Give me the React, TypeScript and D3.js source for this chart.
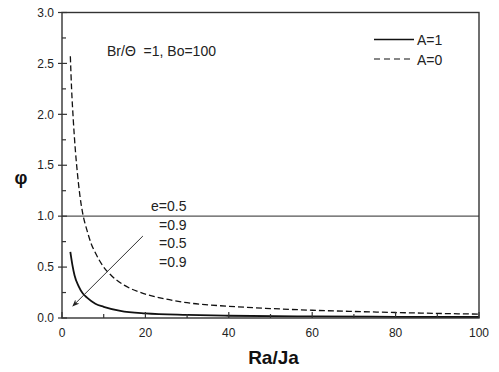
import React, { useRef, useEffect } from "react";
import * as d3 from "d3";

// Ra/Ja values and phi for the two curve families
const raJaA0 = [2, 2.3, 2.7, 3.2, 3.7, 4.3, 5, 6, 7, 8, 10, 12, 15, 20, 25, 30, 40, 50, 60, 70, 80, 90, 100];
const phiA0 = [2.57, 2.25, 1.95, 1.65, 1.42, 1.2, 1.02, 0.86, 0.73, 0.64, 0.5, 0.41, 0.32, 0.235, 0.185, 0.15, 0.115, 0.093, 0.076, 0.064, 0.054, 0.045, 0.038];

const raJaA1 = [2, 2.5, 3, 4, 5, 6, 8, 10, 14, 20, 30, 40, 60, 80, 100];
const phiA1 = [0.65, 0.52, 0.42, 0.31, 0.24, 0.2, 0.14, 0.11, 0.07, 0.045, 0.03, 0.022, 0.015, 0.012, 0.01];

const xTicks = [0, 20, 40, 60, 80, 100];
const yTicks = [0, 0.5, 1.0, 1.5, 2.0, 2.5, 3.0];
const eLabels = ["e=0.5", "=0.9", "=0.5", "=0.9"];
const legendLabels = ["A=1", "A=0"];

// arrow through the curves: [Ra/Ja, phi] start and end
const arrowFrom = [19.4, 0.805];
const arrowTo = [2.6, 0.118];

const width = 499;
const height = 372;
const margin = { top: 12.5, right: 20, bottom: 54, left: 62 };
const font = "Arial, 'Liberation Sans', sans-serif";

function PhiChart() {
  const svgRef = useRef(null);

  useEffect(() => {
    const svg = d3.select(svgRef.current);
    svg.selectAll("*").remove();

    const x = d3.scaleLinear().domain([0, 100]).range([margin.left, width - margin.right]);
    const y = d3.scaleLinear().domain([0, 3]).range([height - margin.bottom, margin.top]);

    const line = d3
      .line()
      .x((d) => x(d[0]))
      .y((d) => y(d[1]))
      .curve(d3.curveMonotoneX);

    const defs = svg.append("defs");
    defs
      .append("marker")
      .attr("id", "arrowhead")
      .attr("viewBox", "0 0 10 10")
      .attr("refX", 9)
      .attr("refY", 5)
      .attr("markerWidth", 7)
      .attr("markerHeight", 7)
      .attr("orient", "auto")
      .append("path")
      .attr("d", "M0,1 L10,5 L0,9 L3,5 Z")
      .attr("fill", "#222");

    // reference line at phi = 1
    svg
      .append("line")
      .attr("x1", x(0))
      .attr("x2", x(100))
      .attr("y1", y(1))
      .attr("y2", y(1))
      .attr("stroke", "#555")
      .attr("stroke-width", 1.1);

    // curves
    svg
      .append("path")
      .datum(raJaA0.map((v, i) => [v, phiA0[i]]))
      .attr("fill", "none")
      .attr("stroke", "#111")
      .attr("stroke-width", 1.3)
      .attr("stroke-dasharray", "6,3")
      .attr("d", line);

    svg
      .append("path")
      .datum(raJaA1.map((v, i) => [v, phiA1[i]]))
      .attr("fill", "none")
      .attr("stroke", "#111")
      .attr("stroke-width", 1.8)
      .attr("d", line);

    // arrow
    svg
      .append("line")
      .attr("x1", x(arrowFrom[0]))
      .attr("y1", y(arrowFrom[1]))
      .attr("x2", x(arrowTo[0]))
      .attr("y2", y(arrowTo[1]))
      .attr("stroke", "#333")
      .attr("stroke-width", 1)
      .attr("marker-end", "url(#arrowhead)");

    // frame
    svg
      .append("rect")
      .attr("x", x(0))
      .attr("y", y(3))
      .attr("width", x(100) - x(0))
      .attr("height", y(0) - y(3))
      .attr("fill", "none")
      .attr("stroke", "#333")
      .attr("stroke-width", 1.4);

    // x axis ticks (inward)
    const xAxis = svg.append("g");
    d3.range(0, 101, 10).forEach((v) => {
      const major = v % 20 === 0;
      xAxis
        .append("line")
        .attr("x1", x(v))
        .attr("x2", x(v))
        .attr("y1", y(0))
        .attr("y2", y(0) - (major ? 6 : 4))
        .attr("stroke", "#333")
        .attr("stroke-width", 1.2);
    });
    xTicks.forEach((v) => {
      xAxis
        .append("text")
        .attr("x", x(v))
        .attr("y", y(0) + 18.5)
        .attr("text-anchor", "middle")
        .style("font-family", font)
        .style("font-size", "12px")
        .attr("fill", "#222")
        .text(v);
    });

    // y axis ticks
    const yAxis = svg.append("g");
    d3.range(0, 3.01, 0.25).forEach((v) => {
      const major = Math.abs(v * 2 - Math.round(v * 2)) < 1e-6;
      yAxis
        .append("line")
        .attr("x1", x(0) + (major ? -4 : 0))
        .attr("x2", x(0) + (major ? 5 : 4))
        .attr("y1", y(v))
        .attr("y2", y(v))
        .attr("stroke", "#333")
        .attr("stroke-width", 1.2);
    });
    yTicks.forEach((v) => {
      yAxis
        .append("text")
        .attr("x", x(0) - 8)
        .attr("y", y(v))
        .attr("dy", "0.35em")
        .attr("text-anchor", "end")
        .style("font-family", font)
        .style("font-size", "12px")
        .attr("fill", "#222")
        .text(v.toFixed(1));
    });

    // axis titles
    svg
      .append("text")
      .attr("x", x(50) + 3)
      .attr("y", 364)
      .attr("text-anchor", "middle")
      .style("font-family", font)
      .style("font-size", "19px")
      .style("font-weight", "bold")
      .attr("fill", "#111")
      .text("Ra/Ja");

    svg
      .append("text")
      .attr("x", 21)
      .attr("y", 184)
      .attr("text-anchor", "middle")
      .style("font-family", font)
      .style("font-size", "18px")
      .style("font-weight", "bold")
      .attr("fill", "#111")
      .text("φ");

    // parameters note
    svg
      .append("text")
      .attr("x", 107)
      .attr("y", 56)
      .style("font-family", font)
      .style("font-size", "14px")
      .style("white-space", "pre")
      .attr("fill", "#222")
      .text("Br/Θ  =1, Bo=100");

    // e labels
    eLabels.forEach((t, i) => {
      svg
        .append("text")
        .attr("x", i === 0 ? 151 : 159)
        .attr("y", 211 + i * 18.5)
        .style("font-family", font)
        .style("font-size", "14px")
        .attr("fill", "#222")
        .text(t);
    });

    // legend
    const legend = svg.append("g");
    legendLabels.forEach((t, i) => {
      const ly = 39.5 + i * 19.5;
      legend
        .append("line")
        .attr("x1", 374)
        .attr("x2", 414)
        .attr("y1", ly)
        .attr("y2", ly)
        .attr("stroke", "#111")
        .attr("stroke-width", i === 0 ? 1.5 : 1.2)
        .attr("stroke-dasharray", i === 0 ? null : "6,4");
      legend
        .append("text")
        .attr("x", 417)
        .attr("y", ly + 5.5)
        .style("font-family", font)
        .style("font-size", "14px")
        .attr("fill", "#222")
        .text(t);
    });
  }, []);

  return (
    <svg
      ref={svgRef}
      width={width}
      height={height}
      style={{ position: "absolute", left: 0, top: 0, background: "#fff" }}
    ></svg>
  );
}

export default function App() {
  return <PhiChart />;
}
